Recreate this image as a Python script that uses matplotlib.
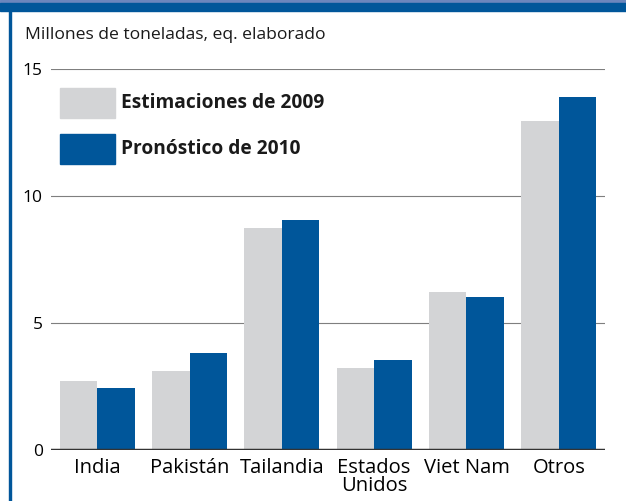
import matplotlib.pyplot as plt
import numpy as np
from matplotlib.patches import Rectangle

plt.rcParams['font.family'] = ['Open Sans', 'DejaVu Sans']

categorias = ["India", "Pakistán", "Tailandia", "Estados\nUnidos", "Viet Nam", "Otros"]
est_2009 = [2.72, 3.10, 8.74, 3.23, 6.22, 12.95]
pron_2010 = [2.44, 3.82, 9.06, 3.54, 6.02, 13.90]
series = ["Estimaciones de 2009", "Pronóstico de 2010"]
yticks = [0, 5, 10, 15]

gris = "#d3d4d6"
azul = "#00569a"

fig = plt.figure(figsize=(6.26, 5.01), dpi=100)
W, H = 626, 501
ax = fig.add_axes([51 / W, 1 - 450 / H, (605 - 51) / W, (450 - 69) / H])

x = np.arange(len(categorias))
w = 0.405
ax.bar(x - w / 2, est_2009, w, color=gris, zorder=3)
ax.bar(x + w / 2, pron_2010, w, color=azul, zorder=3)

ax.set_xlim(-0.5, 5.5)
ax.set_ylim(0, 15)
ax.set_yticks(yticks)
ax.yaxis.grid(True, color="#7f7f7f", linewidth=0.8, zorder=0)
ax.axhline(0, color="#333333", linewidth=2.5, zorder=4)
for s in ax.spines.values():
    s.set_visible(False)
ax.tick_params(axis="y", length=0, pad=6, labelsize=12.5)
ax.tick_params(axis="x", length=0, pad=5.5, labelsize=14.5)
ax.set_xticks(x)
ax.set_xticklabels(categorias, linespacing=0.9)

# legend
for i, (lab, col) in enumerate(zip(series, [gris, azul])):
    y0 = 88 + i * 46
    fig.patches.append(Rectangle((60 / W, 1 - (y0 + 30) / H), 55 / W, 30 / H,
                                 transform=fig.transFigure, color=col))
    fig.text(121 / W, 1 - (y0 + 15) / H, lab, fontsize=13.8, fontweight="bold",
             va="center", ha="left", color="#1a1a1a")

fig.text(25 / W, 1 - 35 / H, "Millones de toneladas, eq. elaborado",
         fontsize=12.6, va="center", ha="left", color="#1a1a1a")

# frame decoration
fig.patches.append(Rectangle((0, 1 - 3 / H), 1, 3 / H, transform=fig.transFigure,
                             color="#6b86bd"))
fig.patches.append(Rectangle((0, 1 - 11 / H), 1, 8 / H, transform=fig.transFigure,
                             color=azul))
fig.patches.append(Rectangle((8.5 / W, 0), 2 / W, 1 - 11 / H, transform=fig.transFigure,
                             color=azul))

fig.savefig("out.png", dpi=100)
